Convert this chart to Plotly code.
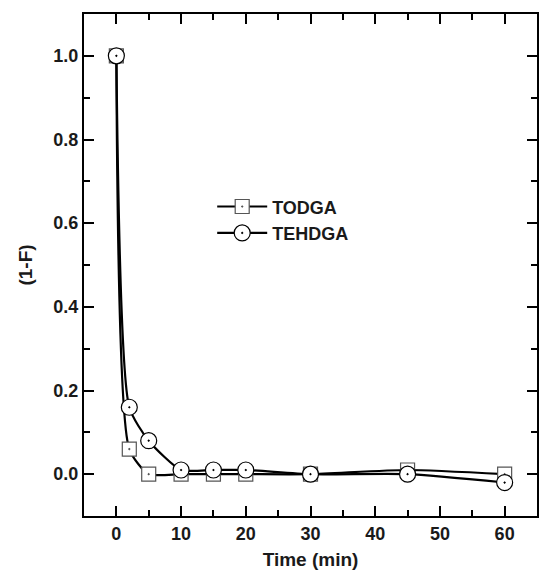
import plotly.graph_objects as go

time_min = [0, 2, 5, 10, 15, 20, 30, 45, 60]
todga = [1.0, 0.06, 0.0, 0.0, 0.0, 0.0, 0.0, 0.01, 0.0]
tehdga = [1.0, 0.16, 0.08, 0.01, 0.01, 0.01, 0.0, 0.0, -0.02]

FONT = "Liberation Sans, Arial, Helvetica, sans-serif"
TXT = "#1a1a1a"

fig = go.Figure()
fig.add_trace(go.Scatter(
    x=time_min, y=todga, name="<b>TODGA</b>", mode="lines+markers",
    line=dict(color="black", width=2.2, shape="spline", smoothing=0.6),
    marker=dict(symbol="square-dot", size=14, color="white",
                line=dict(color="#555", width=1.2)),
))
fig.add_trace(go.Scatter(
    x=time_min, y=tehdga, name="<b>TEHDGA</b>", mode="lines+markers",
    line=dict(color="black", width=2.2, shape="spline", smoothing=0.6),
    marker=dict(symbol="circle-dot", size=16, color="white",
                line=dict(color="black", width=1.2)),
))

axis_common = dict(
    showline=True, linecolor="black", linewidth=2, mirror="allticks",
    ticks="inside", ticklen=10, tickwidth=2, tickcolor="black",
    showgrid=False, zeroline=False, automargin=False,
    tickfont=dict(family=FONT, size=18, color=TXT, weight="bold"),
)

fig.update_xaxes(
    range=[-5, 65], tickmode="linear", tick0=0, dtick=10,
    minor=dict(ticks="inside", ticklen=6, tickwidth=2, tickcolor="black", dtick=5, tick0=0),
    title=dict(text="<b>Time (min)</b>", font=dict(family=FONT, size=19, color=TXT), standoff=10),
    **axis_common,
)
fig.update_yaxes(
    range=[-0.1, 1.1], tickmode="linear", tick0=0, dtick=0.2, tickformat=".1f",
    minor=dict(ticks="inside", ticklen=6, tickwidth=2, tickcolor="black", dtick=0.1, tick0=0),
    title=dict(text="<b>(1-F)</b>", font=dict(family=FONT, size=19, color=TXT), standoff=16),
    **axis_common,
)

fig.update_layout(
    width=539, height=576,
    margin=dict(l=84, r=2, t=14, b=60, autoexpand=False),
    plot_bgcolor="white", paper_bgcolor="white",
    showlegend=True,
    legend=dict(x=0.283, y=0.59, xanchor="left", yanchor="middle",
                bgcolor="rgba(0,0,0,0)", font=dict(family=FONT, size=18, color=TXT),
                itemwidth=50, tracegroupgap=0),
    font=dict(family=FONT),
)

fig.write_html("out.html", config={"displayModeBar": False},
               post_script="document.body.style.margin='0';document.body.style.overflow='hidden';")
